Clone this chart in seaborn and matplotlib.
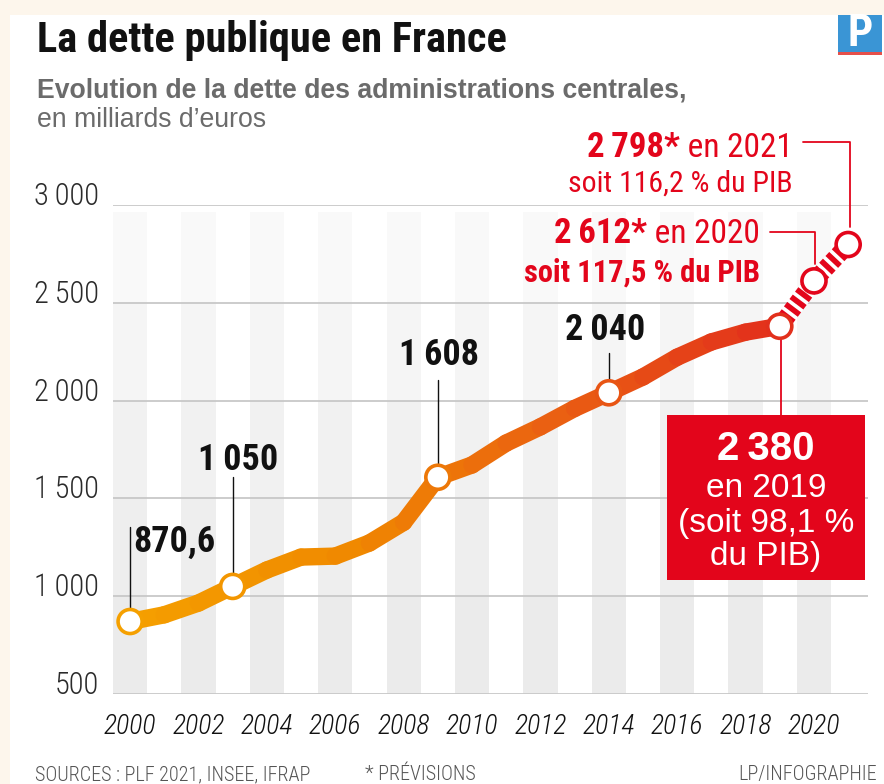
import matplotlib
matplotlib.use('Agg')
import matplotlib.pyplot as plt
import seaborn as sns
from matplotlib.colors import LinearSegmentedColormap
from matplotlib.patches import Rectangle

# Dette des administrations centrales, en milliards d'euros
years = list(range(2000, 2020))
debt = [870.6, 905, 965, 1050, 1134, 1200, 1205, 1272, 1378, 1608,
        1671, 1783, 1866, 1960, 2040, 2121, 2222, 2300, 2350, 2380]
proj_years = [2019, 2020, 2021]
proj_debt = [2380, 2612, 2798]
marked_years = [2000, 2003, 2009, 2014, 2019]
marked_labels = ['870,6', '1\u2009050', '1\u2009608', '2\u2009040']
stripe_years = list(range(2000, 2021, 2))
x_ticks = list(range(2000, 2021, 2))
y_ticks = [500, 1000, 1500, 2000, 2500, 3000]
y_tick_labels = ['500', '1\u2009000', '1\u2009500', '2\u2009000', '2\u2009500', '3\u2009000']

RED = '#e3051b'
NARROW = ['Roboto Condensed', 'Liberation Sans', 'DejaVu Sans']
WIDE = ['Liberation Sans', 'DejaVu Sans']

sns.set_style('white')
plt.rcParams['font.family'] = NARROW

W, H = 884, 784
fig = plt.figure(figsize=(W / 100, H / 100), dpi=100, facecolor='#fdf6ec')
fig.patches.append(Rectangle((10 / W, 0), 1, 1 - 15 / H, transform=fig.transFigure,
                             facecolor='white', edgecolor='none', zorder=-10))

ax = fig.add_axes([113 / W, 1 - 694 / H, 755 / W, (694 - 205) / H])
ax.patch.set_alpha(0)
ax.set_xlim(1999.5, 2021.58)
ax.set_ylim(500, 3000)

# bandes grises une annee sur deux, qui s'estompent vers le haut
fade = [(0.0, 0.2, '#ebebeb'), (0.2, 0.4, '#eeeeee'), (0.4, 0.6, '#f1f1f1'),
        (0.6, 0.8, '#f5f5f5'), (0.8, 0.985, '#f9f9f9')]
for y in stripe_years:
    for lo, hi, c in fade:
        ax.axvspan(y - 0.5, y + 0.5, ymin=lo, ymax=hi, color=c, lw=0, zorder=0)

ax.set_yticks(y_ticks)
ax.set_yticklabels(y_tick_labels, fontsize=22, weight='light', color='#2b2b2b')
ax.set_xticks(x_ticks)
ax.set_xticklabels([str(x) for x in x_ticks], fontsize=20, style='italic', weight='light',
                   color='#111111')
ax.tick_params(axis='x', length=0, pad=14)
ax.tick_params(axis='y', length=0, pad=10)
for lab in ax.get_yticklabels():
    lab.set_verticalalignment('baseline')
ax.yaxis.grid(True, color='#c8c8c8', lw=1.3)
ax.set_axisbelow(True)
sns.despine(ax=ax, left=True, bottom=True)

# courbe en degrade orange -> rouge
cmap = LinearSegmentedColormap.from_list('debt', ['#f5a000', '#f08a00', '#ea5f12', '#e2301c'])
n = len(years) - 1
for i in range(n):
    sns.lineplot(x=years[i:i + 2], y=debt[i:i + 2], color=cmap((i + 0.5) / n), lw=12.5,
                 ax=ax, solid_capstyle='round', zorder=3)

# previsions en pointille
sns.lineplot(x=proj_years, y=proj_debt, color=RED, lw=12.5, ax=ax, zorder=3,
             linestyle=(0, (0.32, 0.21)), gapcolor='white')

mark_x = marked_years + proj_years[1:]
mark_y = [debt[years.index(y)] for y in marked_years] + proj_debt[1:]
edges = [cmap((y - years[0]) / n) for y in marked_years] + [RED, RED]
sns.scatterplot(x=mark_x, y=mark_y, ax=ax, color='white', edgecolor=edges, s=300,
                linewidth=2.6, zorder=5)

# etiquettes noires
lab_pos = [(2000.09, 1226, 'left'), (2003.15, 1645, 'center'),
           (2009.04, 2182, 'center'), (2013.9, 2310, 'center')]
lead = [(1355, 935), (1610, 1118), (2105, 1672), (2243, 2105)]
for (lx, ly, ha), txt, (y0, y1), yr in zip(lab_pos, marked_labels, lead, marked_years):
    ax.text(lx, ly, txt, fontsize=26, weight='bold', ha=ha, va='baseline',
            color='#111111', zorder=6)
    ax.plot([yr, yr], [y0, y1], color='#111111', lw=1, zorder=2, clip_on=False)

# etiquettes rouges des previsions
t1 = ax.text(2019.39, 3247, ' en 2021', fontsize=24, color=RED, ha='right', va='baseline',
             clip_on=False)
ax.text(2019.39, 3068, 'soit 116,2 % du PIB', fontsize=21.5, color=RED, ha='right',
        va='baseline', clip_on=False)
t2 = ax.text(2018.42, 2804, ' en 2020', fontsize=24, color=RED, ha='right', va='baseline',
             clip_on=False)
ax.text(2018.42, 2608, 'soit 117,5 % du PIB', fontsize=22, weight='bold', color=RED,
        ha='right', va='baseline', clip_on=False)

fig.canvas.draw()
rend = fig.canvas.get_renderer()
inv = ax.transData.inverted()
for t, txt, yv in [(t1, '2\u2009798*', 3247), (t2, '2\u2009612*', 2804)]:
    x0 = inv.transform((t.get_window_extent(rend).x0, 0))[0]
    ax.text(x0, yv, txt, fontsize=25, weight='bold', color=RED, ha='right',
            va='baseline', clip_on=False)

ax.plot([2019.68, 2021.05, 2021.05], [3322, 3322, 2890], color=RED, lw=1.3, clip_on=False, zorder=2)
ax.plot([2018.7, 2020.03, 2020.03], [2862, 2862, 2700], color=RED, lw=1.3, clip_on=False, zorder=2)
ax.plot([2019.04, 2019.04], [2320, 1926], color=RED, lw=1.3, clip_on=False, zorder=2)

# encadre 2019
ax.add_patch(Rectangle((2015.70, 1083), 5.79, 843, facecolor=RED, edgecolor='none',
                       clip_on=False, zorder=4))
ax.text(2018.6, 1696, '2\u2009380', fontsize=29, weight='bold', family=WIDE, color='white',
        ha='center', va='baseline', zorder=6)
for txt, yv in [('en 2019', 1507), ('(soit 98,1 %', 1328), ('du PIB)', 1160)]:
    ax.text(2018.6, yv, txt, fontsize=24, family=WIDE, color='white', ha='center',
            va='baseline', zorder=6)

# titres
fig.text(37 / W, 1 - 52 / H, 'La dette publique en France', fontsize=30.5, weight='heavy',
         color='#111111', va='baseline')
fig.text(37 / W, 1 - 98 / H, 'Evolution de la dette des administrations centrales,',
         fontsize=19.2, weight='bold', family=WIDE, color='#6b6b6b', va='baseline')
fig.text(37 / W, 1 - 127 / H, 'en milliards d\u2019euros', fontsize=19.2, family=WIDE,
         color='#6b6b6b', va='baseline')

# logo
fig.patches.append(Rectangle((838 / W, 1 - 52 / H), 44 / W, 37 / H, transform=fig.transFigure,
                             facecolor='#3a95d5', edgecolor='none', zorder=1))
fig.patches.append(Rectangle((838 / W, 1 - 55 / H), 44 / W, 3 / H, transform=fig.transFigure,
                             facecolor='#e6504a', edgecolor='none', zorder=1))
fig.text(860 / W, 1 - 34 / H, 'P', fontsize=32, weight='bold', color='white', ha='center',
         va='center')

# sources
fig.text(35 / W, 4 / H, 'SOURCES : PLF 2021, INSEE, IFRAP', fontsize=14.5, weight='light',
         color='#555555', va='baseline')
fig.text(365 / W, 4 / H, '* PR\u00c9VISIONS', fontsize=14.5, weight='light', color='#555555',
         va='baseline')
fig.text(877 / W, 4 / H, 'LP/INFOGRAPHIE', fontsize=14.5, weight='light', color='#555555',
         ha='right', va='baseline')

fig.savefig('out.png', dpi=100, facecolor=fig.get_facecolor())
